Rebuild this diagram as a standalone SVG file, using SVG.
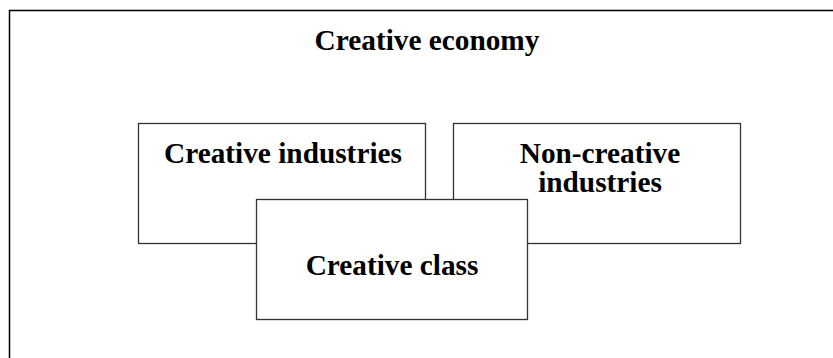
<svg xmlns="http://www.w3.org/2000/svg" width="833" height="358" viewBox="0 0 833 358">
<style>
.box{fill:#fff;stroke:#333;stroke-width:1.3}
.t{font-family:"Liberation Serif","Times New Roman",serif;font-weight:bold;font-size:29.3px;fill:#000;text-anchor:middle}
</style>
<rect width="833" height="358" fill="#fff"/>
<g id="creative-economy">
<rect x="9.5" y="10.5" width="840" height="360" fill="#fff" stroke="#000" stroke-width="1.5"/>
<text class="t" x="427" y="50">Creative economy</text>
</g>
<g id="connectors"></g>
<g id="creative-industries">
<rect class="box" x="138.5" y="123.5" width="287" height="120"/>
<text class="t" x="283" y="163">Creative industries</text>
</g>
<g id="non-creative-industries">
<rect class="box" x="453.5" y="123.5" width="287" height="120"/>
<text class="t" x="600" y="163">Non-creative</text>
<text class="t" x="600" y="192">industries</text>
</g>
<g id="creative-class">
<rect class="box" x="256.5" y="199.5" width="271" height="120"/>
<text class="t" x="392" y="275">Creative class</text>
</g>
</svg>
